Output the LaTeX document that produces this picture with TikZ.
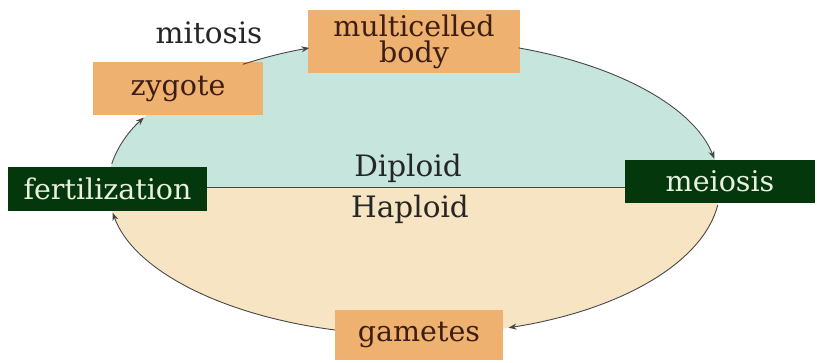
\documentclass[tikz,border=0pt]{standalone}
\usepackage{fontspec}
\setmainfont{DejaVu Serif}
\usetikzlibrary{arrows.meta}

\definecolor{diplcol}{RGB}{198,229,220}
\definecolor{haplcol}{RGB}{246,228,194}
\definecolor{stagecol}{RGB}{239,177,112}
\definecolor{eventcol}{RGB}{4,56,12}
\definecolor{inkcol}{RGB}{60,30,20}
\definecolor{eventtext}{RGB}{232,240,222}
\definecolor{linecol}{RGB}{70,70,70}

\begin{document}
\begin{tikzpicture}[x=1pt, y=-1pt,
    stagebox/.style={fill=stagecol, text=inkcol, inner sep=0pt, align=center,
                     font=\fontsize{28.5}{26}\selectfont},
    eventbox/.style={fill=eventcol, text=eventtext, inner sep=0pt,
                     font=\fontsize{28.5}{26}\selectfont},
    halflabel/.style={text=black!85, font=\fontsize{29.5}{30}\selectfont},
    orbit/.style={x radius=306, y radius=148},
    cyc/.style={linecol, line width=0.9pt, -{Stealth[length=8pt,width=6pt]}}]
    \useasboundingbox (0,0) rectangle (817,362);

    % --- the two halves of the cycle ---
    \coordinate (c) at (414,187);
    \fill[diplcol] (108,187) arc[start angle=180, end angle=360, orbit] -- cycle;
    \fill[haplcol] (108,187) arc[start angle=180, end angle=0, orbit] -- cycle;

    % --- stages and events ---
    \node[stagebox, minimum width=212, minimum height=63] (body) at (414,41.5) {multicelled\\body};
    \node[stagebox, minimum width=170, minimum height=53] (zygote) at (178,88.5) {zygote};
    \node[stagebox, minimum width=168, minimum height=50] (gametes) at (419,335) {gametes};
    \node[eventbox, minimum width=199, minimum height=44] (fert) at (107.5,189) {fertilization};
    \node[eventbox, minimum width=190, minimum height=43] (meiosis) at (720,181.5) {meiosis};

    \node[halflabel] (mitosis) at (209,33) {mitosis};
    \node[halflabel] (diploid) at (408,168) {Diploid};
    \node[halflabel] (haploid) at (410,209) {Haploid};

    % diploid / haploid border
    \draw[linecol, line width=1pt] (fert.east |- c) -- (meiosis.west |- c);

    % --- arrows round the ellipse ---
    \foreach \a/\b in {236/250, 290/349, 7/72, 105/170, 189/208}
        \draw[cyc] ([shift={(\a:306 and 148)}]c) arc[start angle=\a, end angle=\b, orbit];
\end{tikzpicture}
\end{document}
